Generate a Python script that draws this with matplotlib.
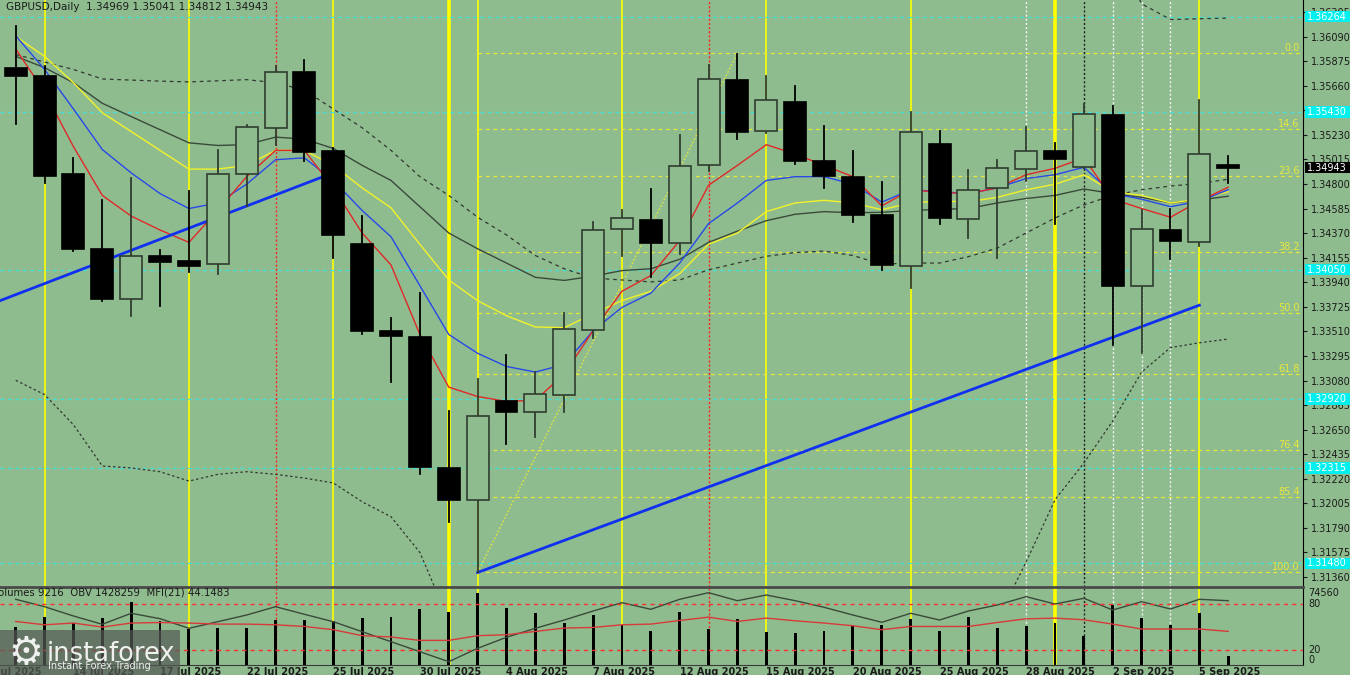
import numpy as np
import matplotlib.pyplot as plt
from matplotlib.patches import Rectangle
from matplotlib.transforms import blended_transform_factory

# ---- daily candles GBPUSD, 10 Jul 2025 .. 8 Sep 2025 ----
opens = [1.35818, 1.35742, 1.34887, 1.34233, 1.33792, 1.34170, 1.34124, 1.34104, 1.34887, 1.35289,
         1.35779, 1.35085, 1.34279, 1.33512, 1.33463, 1.32315, 1.32032, 1.32897, 1.32805, 1.32950,
         1.33526, 1.34407, 1.34489, 1.34282, 1.34963, 1.35706, 1.35262, 1.35515, 1.35002, 1.34864,
         1.34525, 1.34085, 1.35147, 1.34496, 1.34762, 1.34930, 1.35085, 1.34946, 1.35407, 1.33907,
         1.34394, 1.34292, 1.34969]
highs = [1.36186, 1.35834, 1.35029, 1.34660, 1.34851, 1.34226, 1.34739, 1.35094, 1.35318, 1.35834,
         1.35884, 1.35111, 1.34516, 1.33628, 1.33848, 1.32809, 1.33095, 1.33299, 1.33154, 1.33674,
         1.34470, 1.34575, 1.34756, 1.35226, 1.35844, 1.35940, 1.35742, 1.35657, 1.35305, 1.35085,
         1.34818, 1.35430, 1.35265, 1.34923, 1.35006, 1.35298, 1.35160, 1.35496, 1.35483, 1.34568,
         1.34578, 1.35538, 1.35041]
lows = [1.35325, 1.34805, 1.34213, 1.33772, 1.33641, 1.33730, 1.34032, 1.34009, 1.34608, 1.35144,
        1.35002, 1.34154, 1.33489, 1.33068, 1.32266, 1.31845, 1.31404, 1.32522, 1.32588, 1.32802,
        1.33450, 1.34167, 1.33983, 1.34190, 1.34914, 1.35196, 1.35242, 1.34979, 1.34766, 1.34463,
        1.34049, 1.33894, 1.34450, 1.34331, 1.34151, 1.34825, 1.34450, 1.34937, 1.33394, 1.33318,
        1.34147, 1.34256, 1.34812]
closes = [1.35742, 1.34874, 1.34229, 1.33792, 1.34170, 1.34121, 1.34078, 1.34891, 1.35295, 1.35779,
          1.35078, 1.34354, 1.33509, 1.33466, 1.32322, 1.32032, 1.32772, 1.32805, 1.32960, 1.33529,
          1.34400, 1.34499, 1.34282, 1.34956, 1.35716, 1.35259, 1.35535, 1.34999, 1.34871, 1.34529,
          1.34088, 1.35252, 1.34499, 1.34746, 1.34943, 1.35085, 1.35019, 1.35410, 1.33910, 1.34407,
          1.34305, 1.35062, 1.34943]

# moving averages
ma_red = [1.35982, 1.35604, 1.35127, 1.34700, 1.34519, 1.34397, 1.34289, 1.34568, 1.34864, 1.35094,
          1.35094, 1.34766, 1.34371, 1.34091, 1.33483, 1.33022, 1.32940, 1.32897, 1.32907, 1.33137,
          1.33516, 1.33861, 1.33999, 1.34305, 1.34789, 1.34963, 1.35144, 1.35062, 1.34963, 1.34864,
          1.34608, 1.34749, 1.34726, 1.34716, 1.34766, 1.34881, 1.34937, 1.35029, 1.34667, 1.34585,
          1.34509, 1.34650, 1.34772]
ma_blue = [1.36098, 1.35802, 1.35456, 1.35101, 1.34897, 1.34716, 1.34585, 1.34634, 1.34798, 1.35012,
           1.35029, 1.34831, 1.34568, 1.34338, 1.33910, 1.33483, 1.33318, 1.33203, 1.33154, 1.33220,
           1.33516, 1.33720, 1.33845, 1.34108, 1.34453, 1.34634, 1.34831, 1.34864, 1.34864, 1.34798,
           1.34641, 1.34749, 1.34733, 1.34716, 1.34766, 1.34848, 1.34881, 1.34946, 1.34716, 1.34667,
           1.34601, 1.34650, 1.34749]
ma_yellow = [1.36091, 1.35917, 1.35686, 1.35423, 1.35259, 1.35094, 1.34930, 1.34930, 1.34963, 1.35094,
             1.35094, 1.34963, 1.34766, 1.34591, 1.34272, 1.33960, 1.33779, 1.33647, 1.33549, 1.33542,
             1.33664, 1.33779, 1.33861, 1.34016, 1.34272, 1.34371, 1.34558, 1.34634, 1.34657, 1.34634,
             1.34575, 1.34634, 1.34650, 1.34644, 1.34683, 1.34749, 1.34798, 1.34881, 1.34733, 1.34700,
             1.34634, 1.34667, 1.34733]
ma_gray = [1.35917, 1.35818, 1.35686, 1.35506, 1.35390, 1.35275, 1.35160, 1.35137, 1.35144, 1.35210,
           1.35193, 1.35111, 1.34963, 1.34831, 1.34601, 1.34371, 1.34233, 1.34108, 1.33983, 1.33956,
           1.33993, 1.34042, 1.34058, 1.34141, 1.34289, 1.34387, 1.34479, 1.34535, 1.34558, 1.34548,
           1.34552, 1.34568, 1.34578, 1.34585, 1.34634, 1.34673, 1.34700, 1.34756, 1.34716, 1.34683,
           1.34634, 1.34660, 1.34693]
nan = float('nan')
band_mid = [1.35933, 1.35867, 1.35802, 1.35719, 1.35709, 1.35700, 1.35693, 1.35703, 1.35713, 1.35686,
            1.35621, 1.35456, 1.35292, 1.35094, 1.34864, 1.34700, 1.34509, 1.34354, 1.34174, 1.34058,
            1.33976, 1.33960, 1.33943, 1.33960, 1.34049, 1.34108, 1.34167, 1.34200, 1.34213, 1.34174,
            1.34098, 1.34108, 1.34108, 1.34164, 1.34239, 1.34371, 1.34502, 1.34617, 1.34700, 1.34749,
            1.34782, 1.34805, 1.34841]
band_low = [1.33082, 1.32957, 1.32693, 1.32332, 1.32315, 1.32282, 1.32200, 1.32259, 1.32282, 1.32259,
            1.32226, 1.32184, 1.32019, 1.31888, 1.31575, 1.30983] + [nan] * 18 + \
           [1.30983, 1.31493, 1.32036, 1.32358, 1.32726, 1.33154, 1.33368, 1.33410, 1.33443]
band_up = [nan] * 38 + [1.36903, 1.36377, 1.36239, 1.36246, 1.36252]

# lower window: volumes, OBV, MFI(21)
volumes = [39500, 49800, 43000, 48160, 65280, 45690, 37130, 37850, 37850, 46410,
           46410, 45690, 48160, 49190, 57750, 54970, 74560, 58470, 53320, 43620,
           51570, 41250, 35060, 54970, 37440, 47130, 34340, 32690, 35060, 41250,
           41250, 47130, 35370, 49190, 38470, 40220, 43000, 29910, 61880, 48160,
           41250, 53940, 9216]
obv = [1436000, 1395300, 1344100, 1298500, 1359000, 1329300, 1276500, 1312800, 1349600, 1395300,
       1353500, 1312800, 1257800, 1202800, 1147800, 1092800, 1166500, 1227000, 1276500, 1322100,
       1371600, 1417300, 1381000, 1436000, 1472300, 1428300, 1459600, 1428300, 1392000, 1349600,
       1309500, 1359000, 1322100, 1371600, 1404600, 1450300, 1410100, 1441500, 1377100, 1422800,
       1382600, 1436000, 1428259]
mfi = [57.2, 52.8, 55.1, 49.8, 55.1, 55.8, 55.1, 53.7, 53.7, 52.8,
       50.6, 46.3, 38.4, 36.7, 32.2, 32.2, 38.4, 39.7, 44.0, 48.5,
       49.3, 52.8, 53.7, 58.5, 62.9, 57.2, 61.6, 58.1, 55.1, 51.5,
       46.3, 50.6, 50.6, 50.6, 55.8, 60.7, 61.6, 59.4, 53.7, 47.2,
       47.2, 47.2, 44.1]

date_pos = [-1, 2, 5, 8, 11, 14, 17, 20, 23, 26, 29, 32, 35, 38, 41]
date_labels = ['9 Jul 2025', '14 Jul 2025', '17 Jul 2025', '22 Jul 2025', '25 Jul 2025',
               '30 Jul 2025', '4 Aug 2025', '7 Aug 2025', '12 Aug 2025', '15 Aug 2025',
               '20 Aug 2025', '25 Aug 2025', '28 Aug 2025', '2 Sep 2025', '5 Sep 2025']

price_ticks = [1.31360, 1.31575, 1.31790, 1.32005, 1.32220, 1.32435, 1.32650, 1.32865, 1.33080,
               1.33295, 1.33510, 1.33725, 1.33940, 1.34155, 1.34370, 1.34585, 1.34800, 1.35015,
               1.35230, 1.35445, 1.35660, 1.35875, 1.36090, 1.36305]
cyan_levels = [1.36264, 1.35430, 1.34050, 1.32920, 1.32315, 1.31480]
fib_levels = [0.0, 14.6, 23.6, 38.2, 50.0, 61.8, 76.4, 85.4, 100.0]
fib_high, fib_low = 1.35945, 1.31400
fib_from, fib_to = 16, 25
trend1_x, trend1_y = [-0.54, 10.65], [1.33779, 1.34864]
trend2_x, trend2_y = [16, 41], [1.31400, 1.33739]

yellow_days = [1, 6, 11, 16, 21, 26, 31, 41]
month_ends = [15, 36]
red_days = [9, 24]
white_days = [35, 38, 39, 40]
black_days = [37]

BG = '#8FBC8F'
W, H = 1350, 675
xlim = (-0.544, 44.59)

fig = plt.figure(figsize=(13.5, 6.75), dpi=100, facecolor=BG)
ax = fig.add_axes([0, 88 / H, 1303 / W, 587 / H], facecolor=BG)
ax2 = fig.add_axes([0, 10 / H, 1303 / W, 78 / H], facecolor=BG)

x = np.arange(len(closes))


def vlines(a):
    for d in yellow_days:
        a.axvline(d, color='#FFFF00', lw=1.2, zorder=1)
    for d in month_ends:
        a.axvline(d, color='#FFFF00', lw=2.6, zorder=1)
    for d in red_days:
        a.axvline(d, color='#FF2020', lw=1, ls=(0, (1.5, 1.5)), zorder=1)
    for d in white_days:
        a.axvline(d, color='#F4F4F4', lw=1, ls=(0, (1.5, 1.5)), zorder=1)
    for d in black_days:
        a.axvline(d, color='#202020', lw=1, ls=(0, (1.5, 1.5)), zorder=1)


# ---------- price window ----------
vlines(ax)
for lv in cyan_levels:
    ax.axhline(lv, color='#40E0E0', lw=0.9, ls=(0, (3, 3)), zorder=1)

fib_prices = [fib_high - l / 100 * (fib_high - fib_low) for l in fib_levels]
ax.hlines(fib_prices, fib_from, xlim[1], color='#E8E83A', lw=0.9, ls=(0, (3, 3)), zorder=1)
for l, p in zip(fib_levels, fib_prices):
    ax.text(xlim[1] - 0.12, p, f'{l:.1f}', ha='right', va='bottom', color='#E8E83A',
            fontsize=7, zorder=2)
ax.plot([fib_from, fib_to], [fib_low, fib_high], color='#E8E83A', lw=0.9, ls=(0, (1.5, 1.5)), zorder=2)

ax.plot(x, band_mid, color='#303a30', lw=0.9, ls=(0, (3, 3)), zorder=2)
ax.plot(x, band_low, color='#303a30', lw=0.9, ls=(0, (2, 2)), zorder=2)
ax.plot(x, band_up, color='#303a30', lw=0.9, ls=(0, (3, 3)), zorder=2)

ax.plot(x, ma_gray, color='#3a4a3a', lw=1, zorder=3)
ax.plot(x, ma_yellow, color='#F2F22A', lw=1, zorder=3)
ax.plot(x, ma_blue, color='#2848E8', lw=1, zorder=3)
ax.plot(x, ma_red, color='#E02828', lw=1, zorder=3)

ax.plot(trend1_x, trend1_y, color='#1030F0', lw=2, zorder=3)
ax.plot(trend2_x, trend2_y, color='#1030F0', lw=2, zorder=3)

bw = 0.76
for i in range(len(closes)):
    o, h, l, c = opens[i], highs[i], lows[i], closes[i]
    bull = c >= o
    col = '#2f3d2f' if bull else 'black'
    ax.plot([i, i], [l, h], color=col, lw=1.3, zorder=4)
    ax.add_patch(Rectangle((i - bw / 2, min(o, c)), bw, max(abs(c - o), 0.00003),
                           facecolor=BG if bull else 'black', edgecolor=col, lw=1.2, zorder=5))

ax.set_xlim(*xlim)
ax.set_ylim(1.31273, 1.36410)
ax.set_xticks([])
ax.yaxis.tick_right()
ax.set_yticks(price_ticks)
ax.set_yticklabels([f'{t:.5f}' for t in price_ticks])
ax.tick_params(axis='y', labelsize=7, length=3, pad=3, colors='#1a1a1a', width=0.8)
for s in ['left', 'top', 'bottom']:
    ax.spines[s].set_visible(False)
ax.spines['right'].set_color('black')

# price labels on the right scale (boxes cover the tick text, like the terminal does)
tr = blended_transform_factory(ax.transAxes, ax.transData)
box_x0 = 1305 / 1303
box_w = 46 / 1303
box_h = 0.00100


def price_box(value, face):
    ax.add_patch(Rectangle((box_x0, value - box_h / 2), box_w, box_h, transform=tr,
                           facecolor=face, edgecolor='none', clip_on=False, zorder=8))
    ax.text(box_x0 + 0.0015, value, f'{value:.5f}', transform=tr, ha='left', va='center',
            fontsize=7, color='white', clip_on=False, zorder=9)


for lv in cyan_levels:
    price_box(lv, '#00F0F0')
price_box(closes[-1], 'black')

fig.text(6 / W, 1 - 2 / H, 'GBPUSD,Daily  1.34969 1.35041 1.34812 1.34943', ha='left', va='top',
         fontsize=7.5, color='#1a1a1a')

# ---------- indicator window ----------
vlines(ax2)
ax2.bar(x, volumes, width=0.1, color='black', zorder=3)
ax2.set_ylim(0, 80440)
ax2.set_xlim(*xlim)
ax2.set_xticks([])
ax2.set_yticks([])
ax2.spines['left'].set_visible(False)
ax2.spines['top'].set_color('#4a4a4a')
ax2.spines['top'].set_linewidth(2)
ax2.spines['right'].set_color('black')
ax2.spines['bottom'].set_color('#3a3a3a')

ax_obv = ax2.twinx()
ax_obv.plot(x, obv, color='#3a4a3a', lw=1, zorder=3)
ax_obv.set_ylim(1074609, 1503609)
ax_obv.axis('off')

ax_mfi = ax2.twinx()
ax_mfi.axhline(80, color='#FF3030', lw=1, ls=(0, (3, 3)))
ax_mfi.axhline(20, color='#FF3030', lw=1, ls=(0, (3, 3)))
ax_mfi.plot(x, mfi, color='#D83A3A', lw=1)
ax_mfi.set_ylim(-0.3, 102.7)
ax_mfi.set_xlim(*xlim)
ax_mfi.axis('off')

trv = blended_transform_factory(ax2.transAxes, ax2.transData)
ax2.text(1.004, max(volumes), f'{max(volumes)}', transform=trv, ha='left', va='center',
         fontsize=7, color='#1a1a1a', clip_on=False)
trm = blended_transform_factory(ax_mfi.transAxes, ax_mfi.transData)
for v in [80, 20]:
    ax_mfi.text(1.004, v, str(v), transform=trm, ha='left', va='center', fontsize=7,
                color='#1a1a1a', clip_on=False)
ax_mfi.text(1.004, 0, '0', transform=trm, ha='left', va='bottom', fontsize=7,
            color='#1a1a1a', clip_on=False)

ax2.text(-0.006, 0.93, 'Volumes 9216  OBV 1428259  MFI(21) 44.1483', transform=ax2.transAxes,
         ha='left', va='center', fontsize=7.3, color='#1a1a1a', zorder=6)

trd = blended_transform_factory(ax2.transData, ax2.transAxes)
for p, lab in zip(date_pos, date_labels):
    ax2.text(p, -0.02, lab, transform=trd, ha='left', va='top', fontsize=7, fontweight='bold',
             color='#1a1a1a', clip_on=False)

# watermark
fig.patches.append(Rectangle((0, 0), 180 / W, 45 / H, transform=fig.transFigure,
                             facecolor='#555a55', alpha=0.72, edgecolor='none', zorder=10))
fig.text(26 / W, 22 / H, '\u2699', ha='center', va='center', fontsize=28, color='white',
         alpha=0.9, zorder=11)
fig.text(47 / W, 21 / H, 'instaforex', ha='left', va='center', fontsize=18.5, color='white',
         alpha=0.9, zorder=11)
fig.text(48 / W, 4 / H, 'Instant Forex Trading', ha='left', va='bottom', fontsize=7,
         color='white', alpha=0.9, zorder=11)

fig.savefig('out.png', dpi=100, facecolor=BG)
